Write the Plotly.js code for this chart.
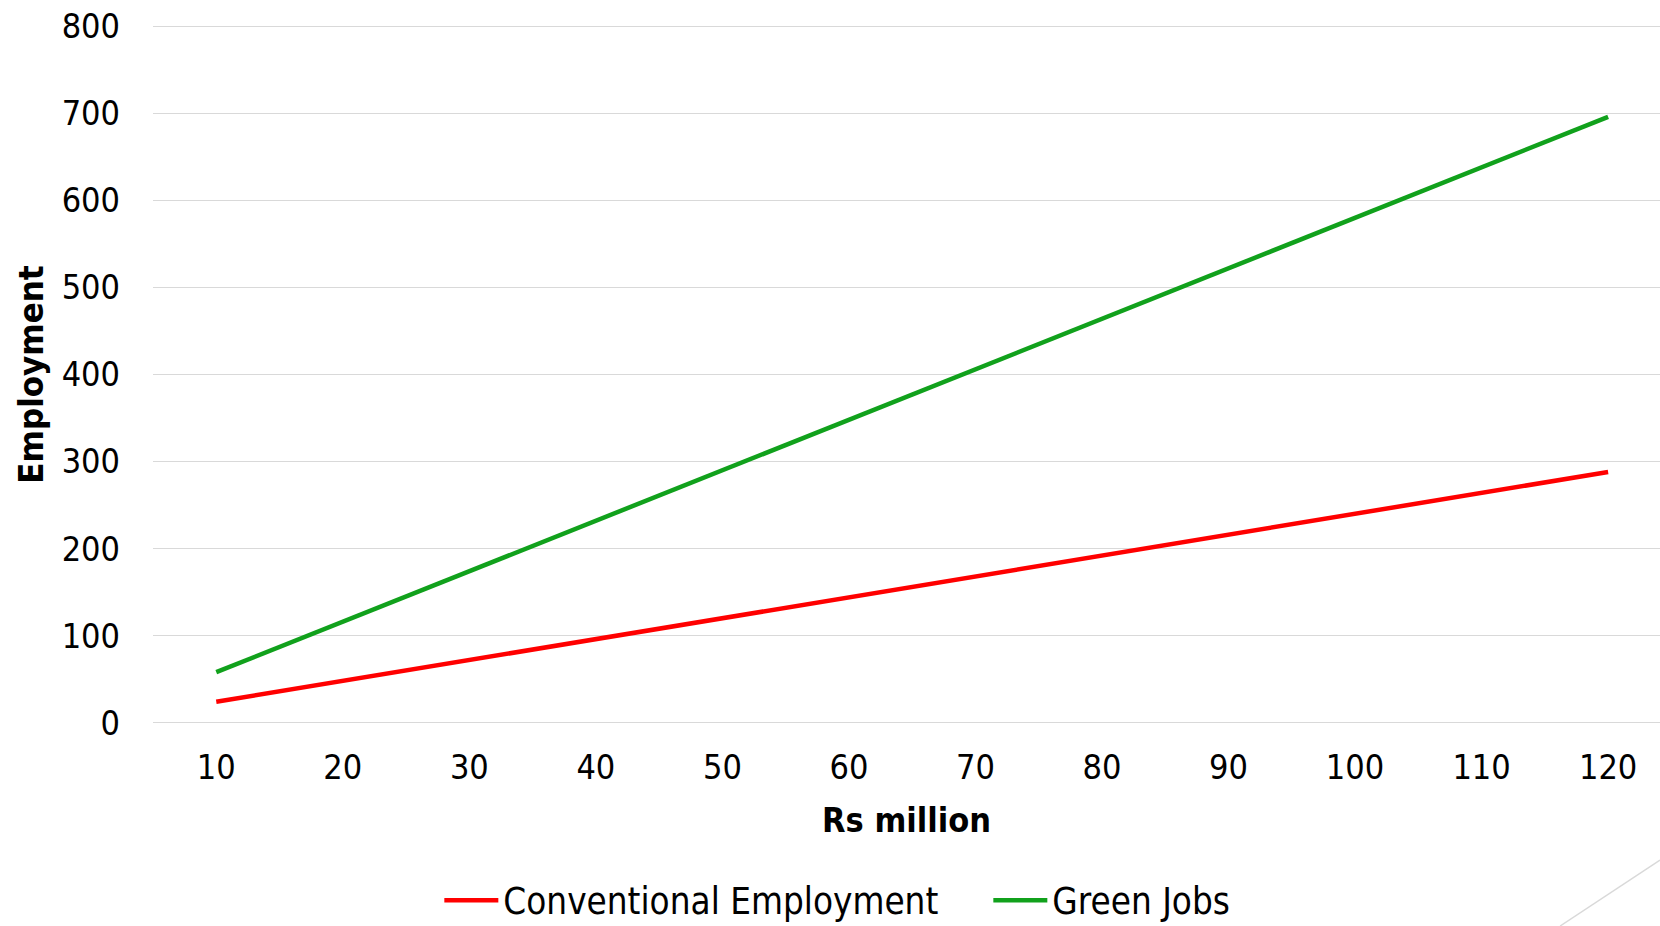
<!DOCTYPE html>
<html>
<head>
<meta charset="utf-8">
<script src="https://cdn.plot.ly/plotly-3.0.1.min.js"></script>
<style>
html,body{margin:0;padding:0;background:#fff;}
#chart{width:1660px;height:926px;}
</style>
</head>
<body>
<div id="chart"></div>
<script>
var investment = [10, 20, 30, 40, 50, 60, 70, 80, 90, 100, 110, 120];
var conventionalEmployment = [24, 48, 72, 96, 120, 144, 168, 192, 216, 240, 264, 288];
var greenJobs = [58, 116, 174, 232, 290, 348, 406, 464, 522, 580, 638, 696];
var yTicks = [0, 100, 200, 300, 400, 500, 600, 700, 800];

var FONT = '"DejaVu Sans Condensed", "DejaVu Sans", sans-serif';

var traces = [
  {
    x: investment, y: conventionalEmployment, name: 'Conventional Employment',
    type: 'scatter', mode: 'lines', legendwidth: 480,
    line: {color: '#ff0000', width: 4.5}
  },
  {
    x: investment, y: greenJobs, name: 'Green Jobs',
    type: 'scatter', mode: 'lines',
    line: {color: '#11a11c', width: 4.5}
  }
];

var layout = {
  width: 1660, height: 926,
  margin: {l: 153, r: 0, t: 25, b: 202, pad: 0, autoexpand: false},
  paper_bgcolor: '#ffffff', plot_bgcolor: '#ffffff',
  font: {family: FONT, color: '#000000', size: 34},
  showlegend: true,
  legend: {
    orientation: 'h', x: 0.19, xanchor: 'left', y: -0.2525, yanchor: 'middle',
    font: {family: FONT, size: 36.5, color: '#000000'},
    itemwidth: 54, tracegroupgap: 0
  },
  xaxis: {
    range: [5, 124.1], tickvals: investment, ticktext: investment.map(String),
    showgrid: false, zeroline: false, showline: false, ticks: '',
    ticklabelstandoff: 20,
    tickfont: {family: FONT, size: 34, color: '#000000'},
    title: {text: '<b>Rs million</b>', font: {family: FONT, size: 34, color: '#000000'}, standoff: 22}
  },
  yaxis: {
    range: [-1.5, 801.5], tickvals: yTicks, ticktext: yTicks.map(String),
    showgrid: true, gridcolor: '#d9d9d9', gridwidth: 1.5,
    zeroline: false, showline: false, ticks: '',
    ticklabelstandoff: 32,
    tickfont: {family: FONT, size: 34, color: '#000000'},
    title: {text: '<b>Employment</b>', font: {family: FONT, size: 34.5, color: '#000000'}, standoff: 7}
  },
  shapes: [
    {type: 'line', xref: 'paper', yref: 'paper', x0: 0.9337, y0: -0.289, x1: 1.0, y1: -0.1946,
     line: {color: '#d9d9d9', width: 1.5}}
  ]
};

Plotly.newPlot('chart', traces, layout, {displayModeBar: false, staticPlot: true});
</script>
</body>
</html>
